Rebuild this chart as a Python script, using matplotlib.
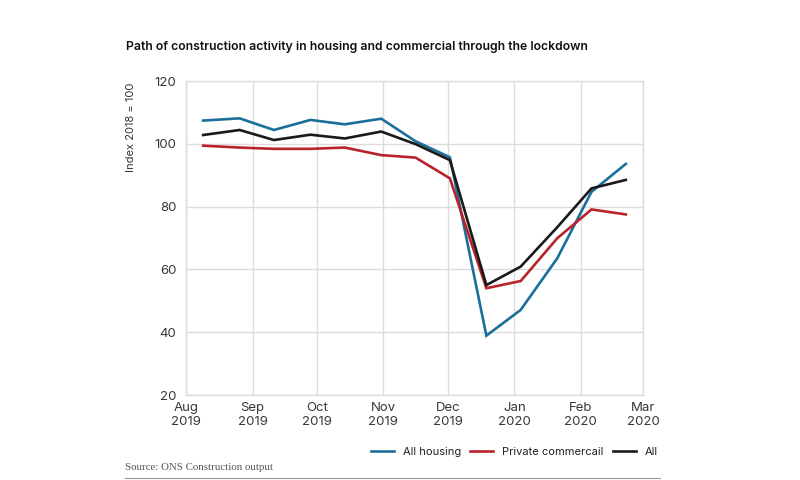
import matplotlib
matplotlib.use("Agg")
import matplotlib.pyplot as plt
import matplotlib.dates as mdates
from matplotlib.lines import Line2D
import pandas as pd

dates = ["2019-08-09", "2019-08-26", "2019-09-11", "2019-09-28", "2019-10-14",
         "2019-10-31", "2019-11-16", "2019-12-02", "2019-12-19", "2020-01-04",
         "2020-01-21", "2020-02-06", "2020-02-22"]
all_housing = [107.4, 108.1, 104.4, 107.6, 106.2, 108.0, 100.8, 95.7, 38.9, 47.1, 63.5, 84.7, 93.6]
private_commercial = [99.4, 98.8, 98.4, 98.4, 98.8, 96.4, 95.6, 89.0, 54.0, 56.3, 69.9, 79.1, 77.5]
all_series = [102.8, 104.4, 101.2, 102.9, 101.7, 103.9, 99.9, 94.8, 55.0, 60.9, 73.4, 85.8, 88.5]

tick_months = ["2019-08-01", "2019-09-01", "2019-10-01", "2019-11-01", "2019-12-01",
               "2020-01-01", "2020-02-01", "2020-03-01"]
tick_labels = ["Aug\n2019", "Sep\n2019", "Oct\n2019", "Nov\n2019", "Dec\n2019",
               "Jan\n2020", "Feb\n2020", "Mar\n2020"]
y_ticks = [20, 40, 60, 80, 100, 120]

series_names = ["All housing", "Private commercail", "All"]
colors = ["#1b6f99", "#b8222b", "#1a1a1a"]

x = pd.to_datetime(dates)
xt = pd.to_datetime(tick_months)

plt.rcParams['font.family'] = ['Inter', 'DejaVu Sans']

fig = plt.figure(figsize=(8, 4.8), dpi=100)
ax = fig.add_axes([186/800, 1-395/480, (643-186)/800, (395-81)/480])

for vals, c, n in zip([all_housing, private_commercial, all_series], colors, series_names):
    ax.plot(x, vals, color=c, lw=1.9, label=n, solid_joinstyle='miter', zorder=3)

ax.set_xlim(xt[0], xt[-1])
ax.set_ylim(20, 120)
ax.set_xticks(xt)
ax.set_xticklabels(tick_labels)
ax.set_yticks(y_ticks)
ax.grid(True, color="#dcdcdc", lw=1)
ax.set_axisbelow(True)
for s in ax.spines.values():
    s.set_color("#dcdcdc")
    s.set_linewidth(1)
ax.tick_params(length=0, labelsize=9.5, colors="#383838")
ax.tick_params(axis='y', pad=7)
ax.tick_params(axis='x', pad=5)
for lbl in ax.get_xticklabels():
    lbl.set_linespacing(1.25)

fig.text(126/800, 1-47/480, "Path of construction activity in housing and commercial through the lockdown",
         fontsize=8.8, fontweight='semibold', color="#111111", va='center', ha='left')
fig.text(131/800, 1-127/480, "Index 2018 = 100", rotation=90, fontsize=8,
         color="#333333", va='center', ha='center')

handles = [Line2D([], [], color=c, lw=1.9) for c in colors]
fig.legend(handles, series_names, loc='center right', bbox_to_anchor=(658/800, 1-452/480),
           ncol=3, frameon=False, fontsize=8, handlelength=2.1, handletextpad=0.8,
           columnspacing=0.8, borderaxespad=0, borderpad=0, labelcolor="#222222")

fig.text(125/800, 1-467/480, "Source: ONS Construction output", fontsize=7.8,
         family=['Liberation Serif', 'DejaVu Serif'], color="#555555", va='center', ha='left')
fig.add_artist(Line2D([125/800, 660/800], [1-478/480, 1-478/480], color="#999999", lw=0.8))

fig.savefig("out.png", dpi=100)
